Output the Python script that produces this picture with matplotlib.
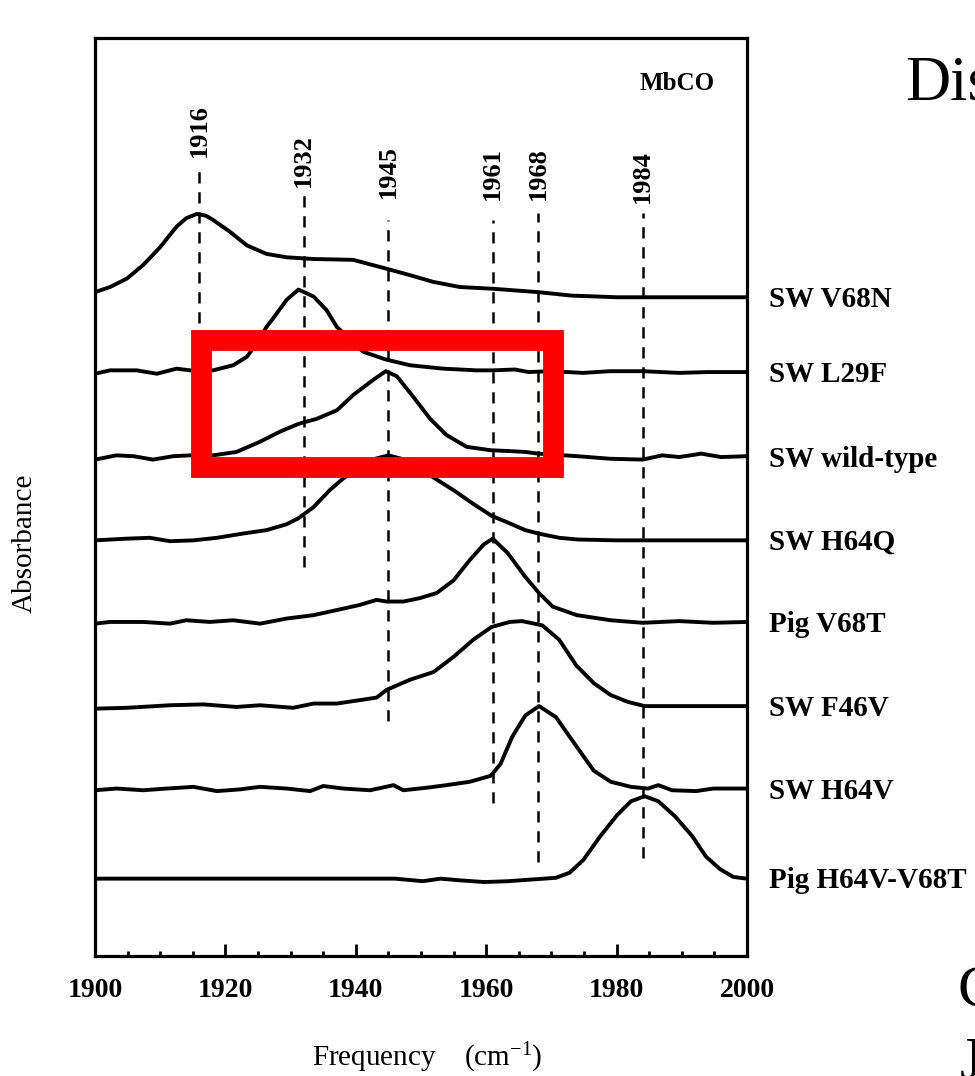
import matplotlib
matplotlib.use("Agg")
import matplotlib.pyplot as plt
from matplotlib.patches import Rectangle
from matplotlib.ticker import MultipleLocator

plt.rcParams["font.family"] = ["Liberation Serif", "DejaVu Serif"]
plt.rcParams["mathtext.fontset"] = "custom"
plt.rcParams["mathtext.rm"] = "Liberation Serif"
plt.rcParams["mathtext.it"] = "Liberation Serif:italic"
plt.rcParams["mathtext.bf"] = "Liberation Serif:bold"

# ---- IR spectra of MbCO mutants (normalised absorbance vs. wavenumber) ----
v68n_freq = [1900, 1902.3, 1904.9, 1907.4, 1910, 1912.5, 1914, 1915.6, 1917, 1918.1,
             1920.7, 1923.3, 1926.3, 1929.4, 1933.5, 1939.6, 1944.5, 1948.3, 1951.9,
             1956, 1961, 1968, 1973, 1980, 1990, 2000]
v68n_abs = [0.06, 0.12, 0.22, 0.38, 0.59, 0.83, 0.93, 0.98, 0.96, 0.91,
            0.77, 0.61, 0.51, 0.47, 0.45, 0.44, 0.34, 0.26, 0.18,
            0.12, 0.10, 0.06, 0.02, 0.0, 0.0, 0.0]

l29f_freq = [1900, 1902.3, 1906.4, 1909.5, 1912.5, 1914.6, 1918.1, 1921.2, 1923.3, 1925,
             1926.3, 1927.3, 1929.4, 1931.2, 1933.5, 1935.5, 1937.1, 1941.1, 1944.5,
             1948.3, 1953.4, 1958.5, 1961, 1964.4, 1966.5, 1970, 1974.8, 1979, 1984,
             1989.6, 1994, 2000]
l29f_abs = [-0.02, 0.02, 0.02, -0.02, 0.04, 0.02, 0.02, 0.08, 0.18, 0.36,
            0.53, 0.63, 0.85, 0.97, 0.89, 0.73, 0.53, 0.24, 0.15,
            0.08, 0.04, 0.02, 0.02, 0.03, 0.0, 0.01, -0.01, 0.01, 0.01,
            -0.01, 0.0, 0.0]

wt_freq = [1900, 1903.3, 1905.9, 1908.9, 1912, 1914.6, 1918.1, 1921.7, 1925.3, 1928.4,
           1931.2, 1934, 1937.1, 1939.6, 1942.7, 1944.6, 1946.3, 1948.8, 1951.4,
           1953.9, 1957, 1960.7, 1963.6, 1966, 1968, 1974, 1979, 1984, 1987, 1989.6,
           1993, 1996, 2000]
wt_abs = [-0.03, 0.02, 0.01, -0.03, 0.01, 0.02, 0.02, 0.06, 0.18, 0.30,
          0.39, 0.45, 0.55, 0.73, 0.91, 1.01, 0.95, 0.71, 0.45,
          0.26, 0.12, 0.08, 0.07, 0.06, 0.04, 0.01, -0.02, -0.03, 0.02, 0.0,
          0.04, 0.0, 0.01]

h64q_freq = [1900, 1904.9, 1908.4, 1911.5, 1915.1, 1918.7, 1922.7, 1926.3, 1929.4, 1931.2,
             1933.5, 1936, 1938.1, 1941, 1943, 1945, 1947, 1950, 1952.1, 1955,
             1958, 1960.8, 1963.6, 1966, 1968, 1971.2, 1974, 1980, 1990, 2000]
h64q_abs = [0.0, 0.02, 0.03, -0.01, 0.0, 0.03, 0.08, 0.12, 0.19, 0.26,
            0.39, 0.59, 0.73, 0.88, 0.96, 1.0, 0.96, 0.84, 0.73, 0.59,
            0.43, 0.29, 0.20, 0.12, 0.08, 0.03, 0.01, 0.0, 0.0, 0.0]

pig_v68t_freq = [1900, 1902.3, 1907.4, 1911.5, 1914, 1917.6, 1921.2, 1925.3, 1929.4, 1933.5,
                 1937.1, 1940.6, 1943.2, 1944.7, 1947.3, 1949.8, 1952.4, 1955, 1957.5,
                 1959.6, 1961, 1963.3, 1966, 1968.1, 1970.2, 1973.9, 1979.1, 1984,
                 1989.6, 1994.8, 2000]
pig_v68t_abs = [-0.02, 0.0, 0.0, -0.02, 0.02, 0.0, 0.02, -0.02, 0.04, 0.08,
                0.14, 0.20, 0.26, 0.24, 0.24, 0.28, 0.34, 0.49, 0.73,
                0.91, 0.98, 0.81, 0.53, 0.34, 0.18, 0.08, 0.02, -0.01,
                0.01, -0.01, 0.0]

f46v_freq = [1900, 1904.9, 1911.5, 1916.6, 1921.7, 1925.3, 1930.4, 1933.5, 1937.1, 1940.6,
             1943.2, 1944.7, 1948.3, 1951.9, 1955, 1958, 1960.8, 1963.6, 1965.5, 1968.6,
             1971.2, 1973.8, 1976.5, 1979.1, 1981.7, 1984.3, 1990, 2000]
f46v_abs = [-0.03, -0.02, 0.01, 0.02, -0.01, 0.01, -0.02, 0.03, 0.03, 0.07,
            0.10, 0.19, 0.31, 0.40, 0.58, 0.78, 0.93, 0.99, 1.0, 0.95,
            0.78, 0.48, 0.27, 0.13, 0.05, 0.0, 0.0, 0.0]

h64v_freq = [1900, 1903.3, 1907.4, 1911, 1915.1, 1918.7, 1922.2, 1925.3, 1929.4, 1933,
             1935, 1938.1, 1942.2, 1945.8, 1947.3, 1950.9, 1953.9, 1957.5, 1960.7, 1962.2,
             1964, 1966, 1968.1, 1970.7, 1973.9, 1976.5, 1979.1, 1982.2, 1984.8, 1986.4,
             1988.5, 1992.2, 1994.8, 2000]
h64v_abs = [-0.01, 0.01, -0.01, 0.01, 0.03, -0.02, 0.0, 0.03, 0.01, -0.02,
            0.04, 0.01, -0.01, 0.05, -0.01, 0.02, 0.05, 0.09, 0.16, 0.30,
            0.62, 0.87, 0.98, 0.85, 0.50, 0.22, 0.09, 0.03, 0.01, 0.05,
            -0.01, -0.02, 0.01, 0.01]

pig_dm_freq = [1900, 1910, 1920, 1930, 1940, 1946, 1950.3, 1953, 1956, 1959.7,
               1963.4, 1967, 1970.7, 1972.8, 1974.9, 1977.5, 1980.1, 1982.2, 1984.3,
               1986.4, 1989, 1991.6, 1993.7, 1995.9, 1997.9, 2000]
pig_dm_abs = [0.0, 0.0, 0.0, 0.0, 0.0, 0.0, -0.03, 0.0, -0.02, -0.04,
              -0.03, -0.01, 0.01, 0.07, 0.22, 0.50, 0.75, 0.91, 0.97,
              0.91, 0.73, 0.50, 0.26, 0.11, 0.02, 0.0]

sample_labels = ["SW V68N", "SW L29F", "SW wild-type", "SW H64Q",
                 "Pig V68T", "SW F46V", "SW H64V", "Pig H64V-V68T"]
trace_offsets = [7.75, 6.87, 5.87, 4.89, 3.93, 2.94, 1.96, 0.91]
traces = [(v68n_freq, v68n_abs), (l29f_freq, l29f_abs), (wt_freq, wt_abs),
          (h64q_freq, h64q_abs), (pig_v68t_freq, pig_v68t_abs),
          (f46v_freq, f46v_abs), (h64v_freq, h64v_abs), (pig_dm_freq, pig_dm_abs)]

# CO stretch band positions (cm^-1) with their marker extents
band_positions = [1916, 1932, 1945, 1961, 1968, 1984]
band_line_top = [9.25, 8.98, 8.66, 8.66, 8.74, 8.74]
band_line_bottom = [7.45, 4.58, 2.76, 1.80, 1.11, 1.15]
band_label_y = [9.40, 9.05, 8.92, 8.89, 8.89, 8.86]

# highlighted region (frequency span, offset span)
highlight_freq = (1916.2, 1970.2)
highlight_y = (5.75, 7.25)

x_major = [1900, 1920, 1940, 1960, 1980, 2000]

fig = plt.figure(figsize=(9.75, 10.76), dpi=100)
ax = fig.add_axes([95 / 975, 1 - 956 / 1076, (747 - 95) / 975, (956 - 38) / 1076])
ax.set_xlim(1900, 2000)
ax.set_ylim(0, 10.8)

for (fr, ab), off in zip(traces, trace_offsets):
    ax.plot(fr, [a + off for a in ab], color="black", lw=2.8,
            solid_joinstyle="round", solid_capstyle="butt", zorder=3)

for pos, top, bot, ly in zip(band_positions, band_line_top, band_line_bottom, band_label_y):
    ax.plot([pos, pos], [bot, top], color="black", lw=1.8,
            linestyle=(0, (4.5, 3.5)), zorder=2)
    ax.text(pos, ly, str(pos), rotation=90, ha="center", va="bottom",
            fontsize=19, fontweight="bold")

for lab, off in zip(sample_labels, trace_offsets):
    ax.text(2003.4, off - 0.115, lab, ha="left", va="baseline",
            fontsize=21, fontweight="bold", clip_on=False)

ax.text(1995, 10.27, "MbCO", ha="right", va="center", fontsize=18, fontweight="bold")

rect = Rectangle((highlight_freq[0], highlight_y[0]),
                 highlight_freq[1] - highlight_freq[0], highlight_y[1] - highlight_y[0],
                 fill=False, edgecolor="#ff0000", lw=15, joinstyle="miter",
                 zorder=5, clip_on=False)
ax.add_patch(rect)

ax.set_xticks(x_major)
ax.set_xticklabels([str(v) for v in x_major], fontsize=20, fontweight="bold")
ax.xaxis.set_minor_locator(MultipleLocator(5))
ax.tick_params(axis="x", which="major", direction="in", length=9, width=2, pad=16)
ax.tick_params(axis="x", which="minor", direction="in", length=3.5, width=2)
ax.set_yticks([])
for sp in ax.spines.values():
    sp.set_linewidth(2.3)

fig.text(427 / 975, 1 - 1058 / 1076, "Frequency    (cm$^{\\mathrm{-1}}$)",
         ha="center", va="center", fontsize=21)
fig.text(25 / 975, 1 - 543 / 1076, "Absorbance", rotation=90,
         ha="center", va="center", fontsize=21)

fig.text(905 / 975, 1 - 100 / 1076, "Dis", ha="left", va="baseline", fontsize=45)
fig.text(958 / 975, 1 - 1005 / 1076, "C", ha="left", va="baseline", fontsize=43)
fig.text(960 / 975, 1 - 1078 / 1076, "J", ha="left", va="baseline", fontsize=43)

fig.savefig("out.png", dpi=100)
